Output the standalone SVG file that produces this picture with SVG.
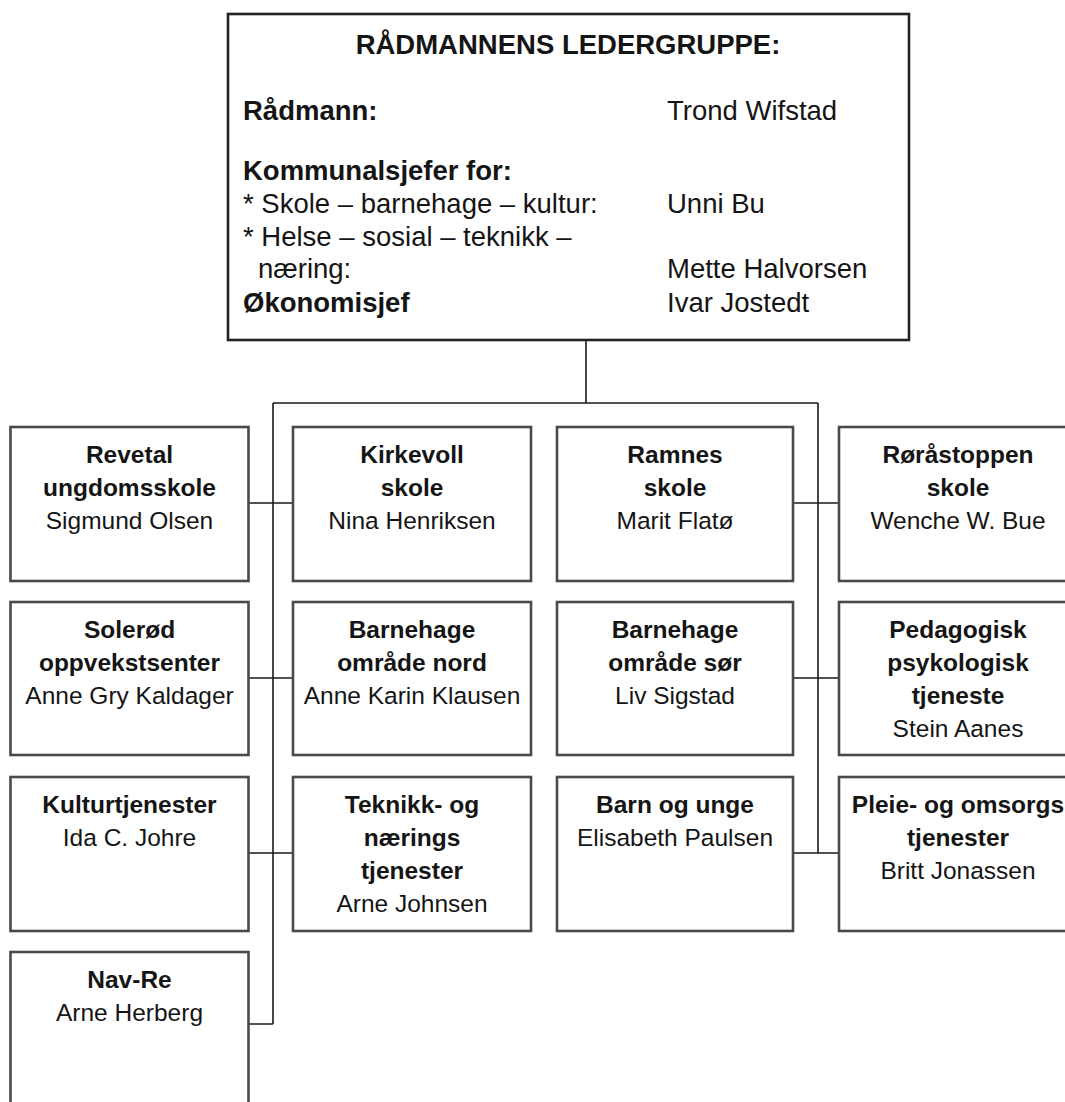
<svg xmlns="http://www.w3.org/2000/svg" width="1065" height="1102" viewBox="0 0 1065 1102">
<style>
text{font-family:"Liberation Sans",Arial,sans-serif;fill:#151515}
.top{font-size:27.5px}
.n{font-size:24.5px;text-anchor:middle}
.b{font-weight:bold}
.box{fill:#fff;stroke:#4a4a4a;stroke-width:2.6}
.topbox{fill:#fff;stroke:#222;stroke-width:2.6}
.con{fill:none;stroke:#1a1a1a;stroke-width:1.6}
</style>
<rect width="1065" height="1102" fill="#fff"/>
<g id="connectors">
<path class="con" d="M586 340V403M273 403H818M273 403V1024M818 403V853"/>
<path class="con" d="M248.5 503H293M248.5 678H293M248.5 853H293M248.5 1024H273"/>
<path class="con" d="M793 503H839M793 678H839M793 853H839"/>
</g>
<g id="ledergruppe">
<rect class="topbox" x="228" y="14" width="681" height="326"/>
<text class="top b" x="568" y="54" text-anchor="middle">RÅDMANNENS LEDERGRUPPE:</text>
<text class="top b" x="243" y="120">Rådmann:</text>
<text class="top" x="667" y="120">Trond Wifstad</text>
<text class="top b" x="243" y="180">Kommunalsjefer for:</text>
<text class="top" x="243" y="213">* Skole – barnehage – kultur:</text>
<text class="top" x="667" y="213">Unni Bu</text>
<text class="top" x="243" y="246">* Helse – sosial – teknikk –</text>
<text class="top" x="258" y="278">næring:</text>
<text class="top" x="667" y="278">Mette Halvorsen</text>
<text class="top b" x="243" y="312">Økonomisjef</text>
<text class="top" x="667" y="312">Ivar Jostedt</text>
</g>
<g id="revetal">
<rect class="box" x="10.5" y="427" width="238" height="154"/>
<text class="n b" x="129.5" y="463">Revetal</text>
<text class="n b" x="129.5" y="496">ungdomsskole</text>
<text class="n" x="129.5" y="529">Sigmund Olsen</text>
</g>
<g id="kirkevoll">
<rect class="box" x="293" y="427" width="238" height="154"/>
<text class="n b" x="412" y="463">Kirkevoll</text>
<text class="n b" x="412" y="496">skole</text>
<text class="n" x="412" y="529">Nina Henriksen</text>
</g>
<g id="ramnes">
<rect class="box" x="557" y="427" width="236" height="154"/>
<text class="n b" x="675" y="463">Ramnes</text>
<text class="n b" x="675" y="496">skole</text>
<text class="n" x="675" y="529">Marit Flatø</text>
</g>
<g id="rorastoppen">
<rect class="box" x="839" y="427" width="238" height="154"/>
<text class="n b" x="958" y="463">Røråstoppen</text>
<text class="n b" x="958" y="496">skole</text>
<text class="n" x="958" y="529">Wenche W. Bue</text>
</g>
<g id="solerod">
<rect class="box" x="10.5" y="602" width="238" height="153"/>
<text class="n b" x="129.5" y="638">Solerød</text>
<text class="n b" x="129.5" y="671">oppvekstsenter</text>
<text class="n" x="129.5" y="704">Anne Gry Kaldager</text>
</g>
<g id="barnehage-nord">
<rect class="box" x="293" y="602" width="238" height="153"/>
<text class="n b" x="412" y="638">Barnehage</text>
<text class="n b" x="412" y="671">område nord</text>
<text class="n" x="412" y="704">Anne Karin Klausen</text>
</g>
<g id="barnehage-sor">
<rect class="box" x="557" y="602" width="236" height="153"/>
<text class="n b" x="675" y="638">Barnehage</text>
<text class="n b" x="675" y="671">område sør</text>
<text class="n" x="675" y="704">Liv Sigstad</text>
</g>
<g id="ppt">
<rect class="box" x="839" y="602" width="238" height="153"/>
<text class="n b" x="958" y="638">Pedagogisk</text>
<text class="n b" x="958" y="671">psykologisk</text>
<text class="n b" x="958" y="704">tjeneste</text>
<text class="n" x="958" y="737">Stein Aanes</text>
</g>
<g id="kulturtjenester">
<rect class="box" x="10.5" y="777" width="238" height="154"/>
<text class="n b" x="129.5" y="813">Kulturtjenester</text>
<text class="n" x="129.5" y="846">Ida C. Johre</text>
</g>
<g id="teknikk">
<rect class="box" x="293" y="777" width="238" height="154"/>
<text class="n b" x="412" y="813">Teknikk- og</text>
<text class="n b" x="412" y="846">nærings</text>
<text class="n b" x="412" y="879">tjenester</text>
<text class="n" x="412" y="912">Arne Johnsen</text>
</g>
<g id="barn-unge">
<rect class="box" x="557" y="777" width="236" height="154"/>
<text class="n b" x="675" y="813">Barn og unge</text>
<text class="n" x="675" y="846">Elisabeth Paulsen</text>
</g>
<g id="pleie">
<rect class="box" x="839" y="777" width="238" height="154"/>
<text class="n b" x="958" y="813">Pleie- og omsorgs</text>
<text class="n b" x="958" y="846">tjenester</text>
<text class="n" x="958" y="879">Britt Jonassen</text>
</g>
<g id="nav-re">
<rect class="box" x="10.5" y="952" width="238" height="160"/>
<text class="n b" x="129.5" y="988">Nav-Re</text>
<text class="n" x="129.5" y="1021">Arne Herberg</text>
</g>
</svg>
